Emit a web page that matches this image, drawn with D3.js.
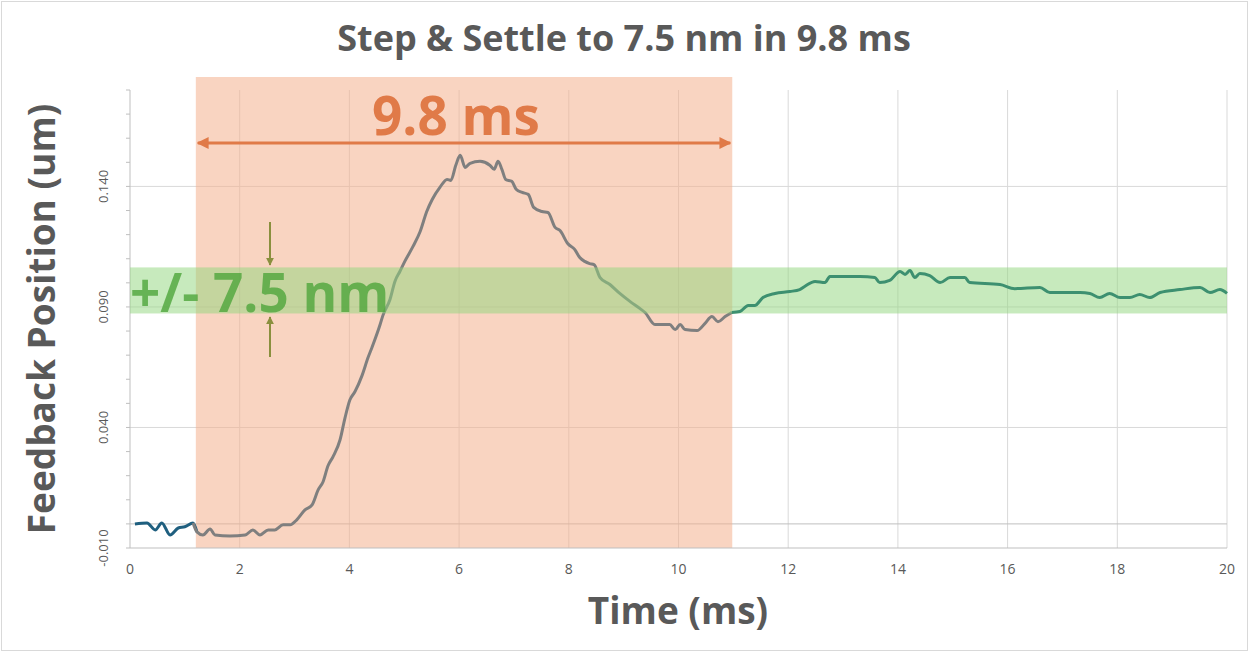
<!DOCTYPE html><html><head><meta charset="utf-8"><script src="https://cdn.jsdelivr.net/npm/d3@7"></script>
<style>body{margin:0;background:#fff}text{font-family:"Open Sans","Liberation Sans",sans-serif}</style></head><body><svg id="c" width="1249" height="652"></svg><script>
const title="Step & Settle to 7.5 nm in 9.8 ms";
const xTicks=[0,2,4,6,8,10,12,14,16,18,20];
const yTicks=[-0.010,0.040,0.090,0.140];
const tms=[0.09,0.31,0.46,0.58,0.73,0.88,1.00,1.15,1.22,1.33,1.46,1.55,1.82,2.10,2.24,2.37,2.52,2.64,2.79,2.92,3.04,3.19,3.32,3.43,3.52,3.61,3.70,3.83,3.92,4.01,4.10,4.23,4.34,4.41,4.56,4.61,4.74,4.83,4.92,5.01,5.16,5.29,5.41,5.51,5.65,5.78,5.85,5.94,6.02,6.11,6.20,6.38,6.56,6.64,6.71,6.78,6.85,6.96,7.04,7.15,7.26,7.36,7.51,7.62,7.75,7.84,7.98,8.11,8.20,8.29,8.38,8.46,8.57,8.75,8.93,9.12,9.30,9.39,9.57,9.70,9.84,9.94,10.03,10.12,10.34,10.48,10.61,10.72,10.85,10.97,11.12,11.27,11.39,11.54,11.76,12.03,12.21,12.30,12.49,12.67,12.76,13.31,13.58,13.67,13.85,14.04,14.13,14.22,14.31,14.40,14.58,14.77,14.95,15.22,15.31,15.86,16.13,16.59,16.77,17.32,17.50,17.68,17.86,18.05,18.23,18.41,18.59,18.78,19.14,19.51,19.69,19.87,20.00];
const pos=[0,0.0004,-0.0025,0.0004,-0.0046,-0.0017,-0.0012,0.0004,-0.0033,-0.0046,-0.0021,-0.0046,-0.005,-0.0046,-0.0025,-0.0046,-0.0025,-0.0025,-0.0004,-0.0004,0.0017,0.0058,0.0079,0.0141,0.0175,0.0241,0.0278,0.0349,0.0440,0.0515,0.0548,0.0615,0.0690,0.0731,0.0827,0.0864,0.0931,0.1006,0.1047,0.1089,0.1151,0.1213,0.1296,0.1346,0.1396,0.1429,0.1425,0.1488,0.1529,0.1479,0.1496,0.1504,0.1488,0.1471,0.1504,0.1471,0.1429,0.1421,0.1388,0.1375,0.1367,0.1313,0.1296,0.1292,0.1230,0.1217,0.1163,0.1138,0.1105,0.1089,0.1080,0.1076,0.1022,0.0993,0.0956,0.0922,0.0893,0.0877,0.0827,0.0827,0.0827,0.0806,0.0827,0.0806,0.0802,0.0831,0.0860,0.0839,0.0860,0.0877,0.0881,0.0906,0.0906,0.0939,0.0956,0.0964,0.0972,0.0985,0.1006,0.1001,0.1026,0.1026,0.1022,0.1001,0.1010,0.1047,0.1035,0.1051,0.1022,0.1039,0.1030,0.1001,0.1022,0.1022,0.1001,0.0993,0.0976,0.0981,0.0960,0.0960,0.0956,0.0939,0.0956,0.0939,0.0939,0.0952,0.0939,0.0960,0.0972,0.0981,0.0960,0.0972,0.0956];
const settleWin=[1.2,10.98];
const band=[0.0873,0.1064];
const svg=d3.select("#c");
const L=130,R=1227,T=90,B=548;
const x=d3.scaleLinear().domain([0,20]).range([L,R]);
const y=d3.scaleLinear().domain([-0.01,0.18]).range([B,T]);
svg.append("rect").attr("x",1.5).attr("y",1.5).attr("width",1246).attr("height",649).attr("fill","#fff").attr("stroke","#d9d9d9");
svg.append("g").selectAll("line").data(xTicks.slice(1)).join("line").attr("x1",d=>x(d)).attr("x2",d=>x(d)).attr("y1",T).attr("y2",B).attr("stroke","#d9d9d9");
svg.append("g").selectAll("line").data(yTicks.slice(1).concat([0])).join("line").attr("x1",L).attr("x2",R).attr("y1",d=>y(d)).attr("y2",d=>y(d)).attr("stroke",d=>d===0?"#bfbfbf":"#d9d9d9");
svg.append("rect").attr("x",x(settleWin[0])).attr("width",x(settleWin[1])-x(settleWin[0])).attr("y",77).attr("height",B-77).attr("fill","#f4b18e").attr("opacity",0.55);
svg.append("line").attr("x1",L).attr("x2",R).attr("y1",B).attr("y2",B).attr("stroke","#bfbfbf");
svg.append("line").attr("x1",L).attr("x2",L).attr("y1",T).attr("y2",B).attr("stroke","#bfbfbf");
svg.append("g").selectAll("line").data(d3.range(0,20).map(i=>-0.01+i*0.01)).join("line").attr("x1",L-4).attr("x2",L).attr("y1",d=>y(d)).attr("y2",d=>y(d)).attr("stroke","#bfbfbf");
svg.append("g").selectAll("text").data(xTicks).join("text").attr("x",d=>x(d)).attr("y",574).attr("text-anchor","middle").attr("font-size",14).attr("fill","#595959").text(d=>d);
svg.append("g").selectAll("text").data(yTicks).join("text").attr("transform",d=>`translate(108,${y(d)}) rotate(-90)`).attr("text-anchor","middle").attr("font-size",13).attr("fill","#595959").text(d=>d3.format(".3f")(d).replace("−","-"));
const pts=tms.map((t,i)=>[t,pos[i]]);
const line=d3.line().x(d=>x(d[0])).y(d=>y(d[1])).curve(d3.curveMonotoneX);
svg.append("path").attr("d",line(pts.filter(p=>p[0]<=1.22))).attr("fill","none").attr("stroke","#1f5f7f").attr("stroke-width",3);
svg.append("path").attr("d",line(pts.filter(p=>p[0]>=1.15&&p[0]<=10.97))).attr("fill","none").attr("stroke","#7f7f7f").attr("stroke-width",3);
svg.append("rect").attr("x",L).attr("width",R-L).attr("y",y(band[1])).attr("height",y(band[0])-y(band[1])).attr("fill","#8fd67c").attr("opacity",0.5);
svg.append("path").attr("d",line(pts.filter(p=>p[0]>=10.97))).attr("fill","none").attr("stroke","#3d9070").attr("stroke-width",3);
const defs=svg.append("defs");
function mk(id,c){defs.append("marker").attr("id",id).attr("viewBox","0 0 10 10").attr("refX",9).attr("refY",5).attr("markerWidth",4).attr("markerHeight",4).attr("orient","auto-start-reverse").append("path").attr("d","M0,0L10,5L0,10z").attr("fill",c);}
mk("ao","#e07a48");mk("ag","#8a8f3e");
svg.append("line").attr("x1",x(settleWin[0])+2).attr("x2",x(settleWin[1])-2).attr("y1",143).attr("y2",143).attr("stroke","#e07a48").attr("stroke-width",3).attr("marker-start","url(#ao)").attr("marker-end","url(#ao)");
svg.append("line").attr("x1",270).attr("x2",270).attr("y1",222).attr("y2",265).attr("stroke","#8a8f3e").attr("stroke-width",2).attr("marker-end","url(#ag)");
svg.append("line").attr("x1",270).attr("x2",270).attr("y1",357).attr("y2",317).attr("stroke","#8a8f3e").attr("stroke-width",2).attr("marker-end","url(#ag)");
svg.append("text").attr("x",456).attr("y",135).attr("text-anchor","middle").attr("font-size",53).attr("font-weight","bold").attr("fill","#e07a48").text("9.8 ms");
svg.append("text").attr("x",130).attr("y",312).attr("font-size",53).attr("font-weight","bold").attr("fill","#4fa63c").attr("opacity",0.8).text("+/- 7.5 nm");
svg.append("text").attr("x",624).attr("y",51).attr("text-anchor","middle").attr("font-size",36).attr("font-weight","bold").attr("fill","#595959").text(title);
svg.append("text").attr("x",678).attr("y",624).attr("text-anchor","middle").attr("font-size",37).attr("font-weight","bold").attr("fill","#595959").text("Time (ms)");
svg.append("text").attr("transform","translate(55,319) rotate(-90)").attr("text-anchor","middle").attr("font-size",37).attr("font-weight","bold").attr("fill","#595959").text("Feedback Position (um)");
</script></body></html>
